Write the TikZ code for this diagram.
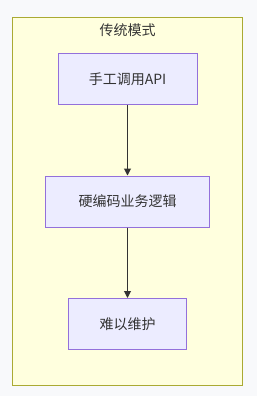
\documentclass[tikz,border=0pt]{standalone}
\usepackage{fontspec}
\setmainfont{Noto Sans CJK SC}
\usepackage{xcolor}
\usetikzlibrary{arrows.meta, math}

\definecolor{pagebg}{HTML}{F8F9FB}
\definecolor{clusterfill}{HTML}{FFFFDE}
\definecolor{clusterline}{HTML}{AAAA33}
\definecolor{boxfill}{HTML}{ECECFF}
\definecolor{boxline}{HTML}{9370DB}
\definecolor{edgecol}{HTML}{333333}

\tikzset{
  stepbox/.style={draw=boxline, fill=boxfill, line width=1pt, minimum height=51pt,
    font=\fontsize{14pt}{16pt}\selectfont, text=edgecol, inner sep=0pt},
  flow/.style={-{Triangle[length=7pt,width=7pt]}, draw=edgecol, fill=edgecol, line width=1pt},
}

\begin{document}
\begin{tikzpicture}[x=1pt, y=-1pt]
\tikzmath{
\cx=127.5;
}
 %background and cluster:
 \fill[pagebg] (0,0) rectangle (257,396);
 \draw[clusterline, fill=clusterfill, line width=1pt] (12.5,18) rectangle (242.5,385);
 \node[font=\fontsize{14pt}{16pt}\selectfont, text=edgecol] (title) at (\cx,30) {传统模式};

 %steps:
 \node[stepbox, minimum width=139pt] (api) at (\cx,79) {手工调用API};
 \node[stepbox, minimum width=164pt] (logic) at (\cx,201.5) {硬编码业务逻辑};
 \node[stepbox, minimum width=118pt] (hard) at (\cx,324) {难以维护};

 \draw[flow] (api) -- (logic);
 \draw[flow] (logic) -- (hard);
\end{tikzpicture}
\end{document}
